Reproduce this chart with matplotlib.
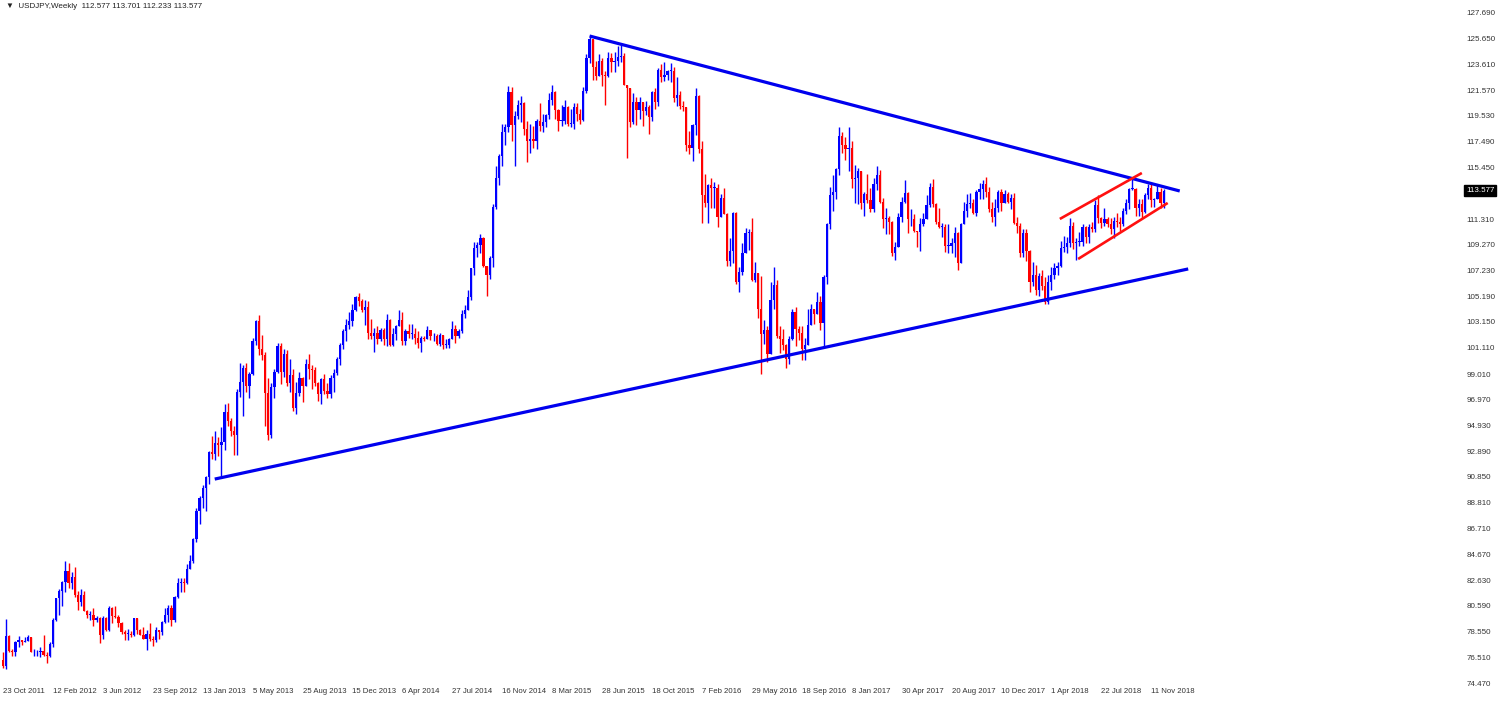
import matplotlib
matplotlib.use('Agg')
import matplotlib.pyplot as plt
import matplotlib.transforms as mtransforms
import numpy as np
import pandas as pd

plt.rcParams['font.family'] = ['Liberation Sans', 'DejaVu Sans']

# weekly USDJPY candles, week starting 23 Oct 2011 up to 9 Dec 2018
start_date = '2011-10-23'
first_open = 76.3
closes = [
    # 2011
    75.8, 78.2, 77.0, 76.9, 77.7, 77.9, 77.7, 77.8, 78.1, 76.9,
    # 2012
    76.9, 76.9, 77.0, 76.7, 76.6, 77.6, 79.5, 81.2, 81.8, 82.5, 83.4, 82.4, 82.9,
    81.5, 80.9, 81.5, 80.2, 79.9, 79.9, 79.5, 79.6, 78.3, 79.6, 78.7, 80.4, 79.8,
    79.7, 79.2, 78.5, 78.4, 78.4, 78.3, 79.6, 78.7, 78.3, 78.0, 78.4, 78.0, 77.9, 78.7,
    78.5, 79.3, 79.9, 80.4, 79.5, 81.3, 82.4, 82.5, 82.4, 83.5, 84.2, 85.9, 88.1,
    # 2013
    89.2, 90.0, 90.8, 92.8, 92.7, 93.5, 93.4, 93.6, 96.0, 95.3, 94.5, 94.2, 97.6,
    98.4, 99.5, 98.1, 99.0, 101.6, 103.2, 101.0, 100.5, 97.5, 94.2, 98.0, 99.2, 101.2,
    99.2, 100.6, 98.3, 98.9, 96.3, 97.5, 98.7, 98.1, 99.8, 99.4, 99.3, 98.3, 97.4,
    98.6, 97.7, 97.4, 98.7, 99.1, 100.2, 101.3, 102.4, 102.9, 103.2, 104.1, 105.1, 104.8,
    # 2014
    104.1, 104.3, 102.3, 102.0, 102.3, 101.8, 102.5, 101.8, 103.3, 101.3, 102.2, 102.8, 103.3,
    101.6, 102.4, 102.2, 102.2, 101.9, 101.5, 101.9, 101.8, 102.5, 102.0, 102.0, 101.4, 102.1,
    101.3, 101.3, 101.8, 102.6, 102.0, 102.4, 103.8, 104.1, 105.1, 107.4, 109.0, 109.3, 109.8,
    107.6, 106.9, 108.2, 112.3, 114.6, 116.3, 118.2, 118.6, 121.4, 118.8, 119.5, 120.4, 120.5,
    # 2015
    118.5, 117.5, 117.7, 117.5, 119.1, 118.7, 119.0, 119.6, 120.8, 121.4, 120.0, 119.1, 119.1,
    120.2, 118.9, 118.9, 120.2, 119.7, 119.2, 121.5, 124.1, 125.6, 123.4, 122.7, 123.9, 122.8,
    122.7, 124.1, 123.8, 123.9, 124.2, 124.3, 122.0, 121.7, 119.0, 120.6, 120.0, 120.6, 119.9,
    120.2, 119.4, 121.4, 120.6, 123.2, 122.6, 122.8, 123.1, 123.1, 120.9, 121.2, 120.3, 120.2,
    # 2016
    117.2, 117.0, 118.8, 121.1, 116.9, 113.2, 112.6, 114.0, 113.8, 113.8, 111.5, 113.0, 111.7,
    108.0, 108.8, 111.8, 106.3, 107.1, 108.6, 110.2, 110.3, 106.5, 107.0, 104.2, 102.2, 102.5,
    100.6, 104.9, 106.1, 102.0, 101.8, 101.3, 100.2, 101.8, 103.9, 102.6, 102.3, 101.0, 101.3,
    102.9, 104.2, 103.8, 104.7, 103.1, 106.7, 110.9, 113.2, 113.5, 115.3, 117.9, 117.2, 116.9,
    # 2017
    117.0, 114.5, 114.6, 115.1, 112.6, 113.3, 112.8, 112.1, 114.1, 114.8, 112.7, 111.3, 111.4,
    111.1, 108.6, 109.1, 111.5, 112.7, 113.4, 111.3, 111.3, 110.4, 110.3, 110.9, 111.3, 112.4,
    113.9, 112.5, 111.1, 110.7, 110.7, 109.2, 109.2, 109.4, 110.2, 107.8, 110.9, 112.0, 112.5,
    112.6, 111.8, 113.5, 113.7, 114.1, 113.5, 112.1, 111.5, 112.2, 113.5, 112.6, 113.3, 112.7, 113.0,
    # 2018
    111.0, 110.8, 108.6, 110.2, 108.8, 106.3, 106.9, 105.7, 106.8, 106.0, 104.7, 106.3,
    106.9, 107.4, 107.6, 109.0, 109.1, 109.4, 110.8, 109.4, 109.5, 109.5, 110.7, 109.9, 110.7,
    110.5, 112.4, 111.4, 111.0, 111.3, 110.9, 110.5, 111.2, 111.1, 110.9, 112.0, 112.6, 113.7, 113.7,
    112.2, 112.5, 111.9, 113.2, 113.8, 112.8, 112.9, 113.5, 112.577, 113.577,
]
highs = [
    # 2011
    76.9, 79.55, 78.3, 77.2, 77.8, 78.2, 77.9, 78.1, 78.3, 78.1,
    # 2012
    77.2, 77.1, 77.3, 78.3, 76.9, 77.7, 79.6, 81.2, 81.9, 82.6, 84.2, 84.0, 83.3,
    83.7, 81.8, 81.9, 81.8, 80.3, 80.2, 80.4, 79.8, 79.7, 79.8, 79.7, 80.6, 80.5,
    80.6, 79.9, 79.3, 78.7, 78.8, 78.6, 79.6, 79.6, 78.8, 78.9, 78.7, 79.2, 78.2, 78.9,
    78.7, 79.4, 80.4, 80.7, 80.7, 81.4, 82.8, 82.8, 82.8, 83.9, 84.6, 86.0, 88.4,
    # 2013
    89.3, 90.2, 90.9, 92.9, 94.1, 94.5, 94.0, 94.8, 96.6, 96.7, 95.5, 94.9, 97.8,
    99.9, 99.7, 99.9, 99.2, 101.9, 103.3, 103.7, 102.1, 100.8, 98.7, 98.3, 99.4, 101.5,
    101.5, 101.0, 100.9, 100.2, 99.4, 98.4, 99.2, 98.8, 100.2, 100.6, 99.7, 99.6, 98.4,
    98.7, 99.0, 98.3, 98.9, 99.4, 100.4, 101.5, 102.6, 103.4, 103.9, 104.6, 105.2, 105.45,
    # 2014
    105.0, 104.9, 104.8, 103.4, 102.7, 102.8, 102.7, 102.7, 103.8, 103.4, 102.7, 102.9, 104.1,
    103.9, 102.6, 103.0, 103.0, 102.7, 102.4, 102.0, 102.0, 102.8, 102.4, 102.3, 102.2, 102.3,
    102.1, 101.8, 101.9, 103.2, 102.9, 102.6, 104.1, 104.5, 105.7, 107.4, 109.5, 109.5, 110.1,
    109.9, 107.6, 108.4, 112.5, 115.5, 116.5, 118.9, 118.9, 121.9, 121.8, 119.9, 120.8, 121.1,
    # 2015
    120.6, 119.1, 118.9, 118.7, 119.3, 120.5, 119.7, 119.7, 121.3, 122.0, 121.5, 120.1, 120.4,
    120.8, 120.3, 120.1, 120.5, 120.5, 120.1, 121.8, 124.4, 125.86, 125.1, 123.9, 124.4, 124.1,
    123.1, 124.6, 124.5, 124.6, 125.1, 125.3, 124.5, 122.0, 121.7, 121.3, 121.0, 121.0, 120.6,
    120.7, 120.4, 121.5, 121.7, 123.3, 123.6, 123.8, 123.2, 123.7, 123.4, 122.6, 121.5, 120.7,
    # 2016
    120.2, 118.3, 118.9, 121.7, 121.2, 117.5, 114.9, 114.1, 114.6, 114.3, 114.1, 113.3, 113.8,
    111.8, 109.8, 111.9, 111.9, 107.5, 109.4, 110.6, 110.5, 111.4, 107.9, 106.9, 106.8, 103.3,
    102.8, 106.3, 107.5, 106.5, 102.8, 102.6, 101.4, 102.0, 104.2, 104.3, 102.8, 102.8, 101.9,
    104.2, 104.6, 104.2, 105.5, 105.2, 106.9, 111.0, 113.9, 114.8, 115.4, 118.66, 118.2, 117.8,
    # 2017
    118.6, 117.5, 115.6, 115.4, 115.1, 113.5, 114.9, 113.8, 114.6, 115.5, 115.2, 113.0, 112.2,
    111.6, 111.2, 109.5, 111.8, 113.1, 114.4, 113.5, 112.1, 111.7, 110.4, 111.4, 111.8, 113.2,
    114.2, 114.5, 112.6, 112.2, 111.0, 110.9, 110.9, 109.8, 110.7, 110.3, 111.0, 112.7, 113.3,
    113.4, 112.9, 113.6, 114.2, 114.4, 114.7, 113.9, 112.7, 112.9, 113.6, 113.7, 113.6, 113.5, 113.3,
    # 2018
    113.4, 111.5, 111.0, 110.5, 110.5, 108.9, 107.9, 107.7, 107.0, 107.3, 106.7, 106.9,
    107.5, 107.8, 107.9, 109.6, 110.0, 109.9, 111.4, 111.1, 109.8, 110.3, 110.9, 110.8, 110.9,
    111.1, 112.8, 113.2, 111.5, 112.2, 111.5, 111.4, 111.5, 111.8, 111.5, 112.2, 112.9, 113.8, 114.55,
    113.8, 112.9, 112.9, 113.4, 114.1, 114.2, 113.0, 114.0, 113.8, 113.701,
]
lows = [
    # 2011
    75.7, 75.56, 76.9, 76.6, 76.6, 77.3, 77.5, 77.7, 77.8, 76.9,
    # 2012
    76.6, 76.6, 76.5, 76.6, 76.1, 76.5, 77.3, 79.4, 79.9, 80.6, 81.7, 82.0, 81.9,
    81.3, 80.3, 80.6, 80.2, 79.6, 79.5, 79.0, 79.3, 77.65, 78.0, 78.6, 78.6, 79.2,
    79.6, 78.9, 78.4, 77.9, 77.9, 78.1, 78.2, 78.4, 78.3, 78.0, 77.1, 77.8, 77.4, 77.7,
    78.0, 78.3, 79.2, 79.3, 79.0, 79.3, 81.2, 81.7, 81.7, 82.3, 83.5, 84.0, 85.7,
    # 2013
    87.1, 88.4, 88.1, 90.3, 92.3, 92.2, 92.5, 90.9, 93.0, 94.9, 94.1, 92.6, 92.6,
    97.2, 95.7, 97.6, 97.1, 98.9, 101.3, 100.5, 100.1, 94.9, 93.8, 93.9, 97.1, 99.1,
    98.2, 98.8, 98.1, 97.6, 96.1, 95.8, 97.3, 96.8, 98.2, 98.6, 97.8, 98.1, 96.9,
    96.6, 97.4, 97.1, 97.1, 97.6, 98.9, 99.7, 101.0, 101.6, 102.6, 102.8, 104.0, 104.4,
    # 2014
    103.9, 102.9, 101.8, 101.8, 100.8, 101.4, 101.6, 101.3, 101.2, 101.2, 101.2, 101.7, 102.8,
    101.3, 101.3, 101.9, 101.8, 101.4, 101.1, 100.8, 101.6, 101.8, 101.7, 101.6, 101.3, 101.2,
    101.0, 101.1, 101.1, 101.8, 101.5, 101.9, 102.3, 103.5, 104.1, 104.9, 106.9, 108.3, 108.6,
    107.5, 105.2, 106.6, 107.5, 112.1, 114.0, 115.5, 117.2, 118.2, 117.5, 115.5, 119.3, 119.0,
    # 2015
    118.0, 115.85, 116.6, 117.0, 116.9, 118.3, 118.2, 118.6, 119.3, 120.4, 119.3, 118.3, 118.7,
    118.9, 118.7, 118.6, 118.5, 119.1, 118.9, 119.1, 121.3, 123.7, 122.4, 122.4, 122.9, 121.9,
    120.4, 122.6, 123.0, 123.0, 123.5, 123.8, 122.0, 116.2, 118.6, 118.9, 118.8, 119.3, 118.7,
    119.6, 118.1, 119.1, 120.1, 120.3, 122.2, 122.3, 122.4, 122.2, 120.6, 120.3, 120.1, 119.9,
    # 2016
    116.7, 116.5, 115.97, 118.0, 116.6, 110.98, 112.3, 111.0, 112.2, 112.2, 110.7, 111.5, 111.7,
    107.6, 107.6, 107.8, 106.2, 105.5, 106.9, 108.7, 108.9, 106.4, 106.3, 103.5, 99.0, 101.4,
    99.99, 100.7, 104.2, 101.9, 100.7, 100.9, 99.5, 99.8, 101.7, 101.2, 101.7, 100.1, 100.1,
    101.3, 103.1, 103.0, 103.8, 102.5, 101.2, 106.2, 110.5, 112.0, 112.9, 114.8, 116.6, 116.0,
    # 2017
    115.1, 113.8, 112.6, 112.5, 112.1, 111.6, 112.6, 111.9, 111.9, 113.6, 112.6, 110.6, 110.1,
    110.1, 108.4, 108.1, 109.4, 111.1, 112.6, 110.2, 110.8, 110.3, 109.1, 108.8, 110.8, 111.3,
    112.3, 112.3, 110.9, 110.6, 109.9, 108.7, 108.6, 108.6, 108.3, 107.3, 107.8, 111.0, 111.5,
    112.2, 111.7, 111.6, 112.9, 112.9, 113.1, 111.9, 111.1, 110.8, 111.9, 112.0, 112.6, 112.6, 112.1,
    # 2018
    110.9, 110.2, 108.3, 108.3, 108.0, 105.55, 106.0, 105.3, 105.2, 105.7, 104.6, 104.6,
    105.7, 106.6, 106.9, 107.5, 108.7, 108.6, 109.1, 108.95, 108.1, 109.2, 109.2, 109.4, 109.4,
    110.3, 110.3, 111.0, 110.6, 110.8, 110.7, 110.1, 109.8, 110.7, 110.4, 110.8, 111.7, 112.1, 113.6,
    111.6, 111.6, 111.4, 111.8, 112.9, 112.3, 112.3, 112.9, 112.2, 112.233,
]

# right price scale (as printed by the terminal)
price_ticks = [127.690, 125.650, 123.610, 121.570, 119.530, 117.490, 115.450,
               111.310, 109.270, 107.230, 105.190, 103.150, 101.110, 99.010,
               96.970, 94.930, 92.890, 90.850, 88.810, 86.710, 84.670, 82.630,
               80.590, 78.550, 76.510, 74.470]
last_price = 113.577

# drawn trend lines: (start date, start price, end date, end price)
blue_upper = ('2015-05-31', 125.86, '2019-01-14', 113.55)
blue_lower = ('2013-02-09', 90.67, '2019-02-02', 107.36)
red_upper = ('2018-04-20', 111.33, '2018-10-21', 114.98)
red_lower = ('2018-05-31', 108.15, '2018-12-18', 112.60)

closes = np.array(closes)
highs = np.array(highs)
lows = np.array(lows)
opens = np.concatenate([[first_open], closes[:-1]])
opens[-1] = 112.577
n = len(closes)
dates = pd.date_range(start_date, periods=n, freq='7D')
x = np.arange(n)
t0 = pd.Timestamp(start_date)


def week_pos(d):
    return (pd.Timestamp(d) - t0).days / 7.0


highs = np.maximum(highs, np.maximum(opens, closes))
lows = np.minimum(lows, np.minimum(opens, closes))
up = closes >= opens
col = np.where(up, '#0000ff', '#ff0000')

fig = plt.figure(figsize=(15, 7.02), dpi=100)
ax = fig.add_axes([0, 16 / 702, 1447 / 1500, 686 / 702])

# wicks and bodies
ax.vlines(x, lows, highs, colors=col, linewidth=1.0, zorder=2)
body_h = np.abs(closes - opens)
body_h = np.maximum(body_h, 0.06)
ax.bar(x, body_h, bottom=np.minimum(opens, closes), width=0.72,
       color=col, linewidth=0, zorder=3)

# trend lines
for ln, c, lw in [(blue_upper, '#0000ee', 2.3), (blue_lower, '#0000ee', 2.3),
                  (red_upper, '#ff1010', 1.9), (red_lower, '#ff1010', 1.9)]:
    ax.plot([week_pos(ln[0]), week_pos(ln[2])], [ln[1], ln[3]],
            color=c, linewidth=lw, solid_capstyle='butt', zorder=4)

ax.set_xlim(-0.96, 462.8)
ax.set_ylim(74.235, 128.72)

# axis labels
xt = np.arange(0, n, 16)
xl = [f"{dates[i].day} {dates[i].strftime('%b %Y')}" for i in xt]
ax.set_xticks(xt)
ax.set_xticklabels(xl, fontsize=5.6, color='#333333')
for lbl in ax.get_xticklabels():
    lbl.set_horizontalalignment('left')
ax.yaxis.tick_right()
ax.set_yticks(price_ticks)
ax.set_yticklabels([f'{v:.3f}' for v in price_ticks], fontsize=5.8, color='#333333')
ax.tick_params(axis='y', length=0, pad=14)
ax.tick_params(axis='x', length=0, pad=1.5)
for s in ax.spines.values():
    s.set_visible(False)

trans = mtransforms.blended_transform_factory(ax.transAxes, ax.transData)
ax.text(1 + 19 / 1447, last_price, f'{last_price:.3f}', transform=trans,
        fontsize=5.8, color='white', va='center', ha='left', zorder=10,
        bbox=dict(facecolor='black', edgecolor='black', pad=1.2), clip_on=False)

ax.text(0.004, 0.990, '\u25bc  USDJPY,Weekly  112.577 113.701 112.233 113.577',
        transform=ax.transAxes, fontsize=5.8, color='#222222', va='center', ha='left',
        family=['Liberation Sans', 'DejaVu Sans'])

fig.savefig('out.png', dpi=100, facecolor='white')
